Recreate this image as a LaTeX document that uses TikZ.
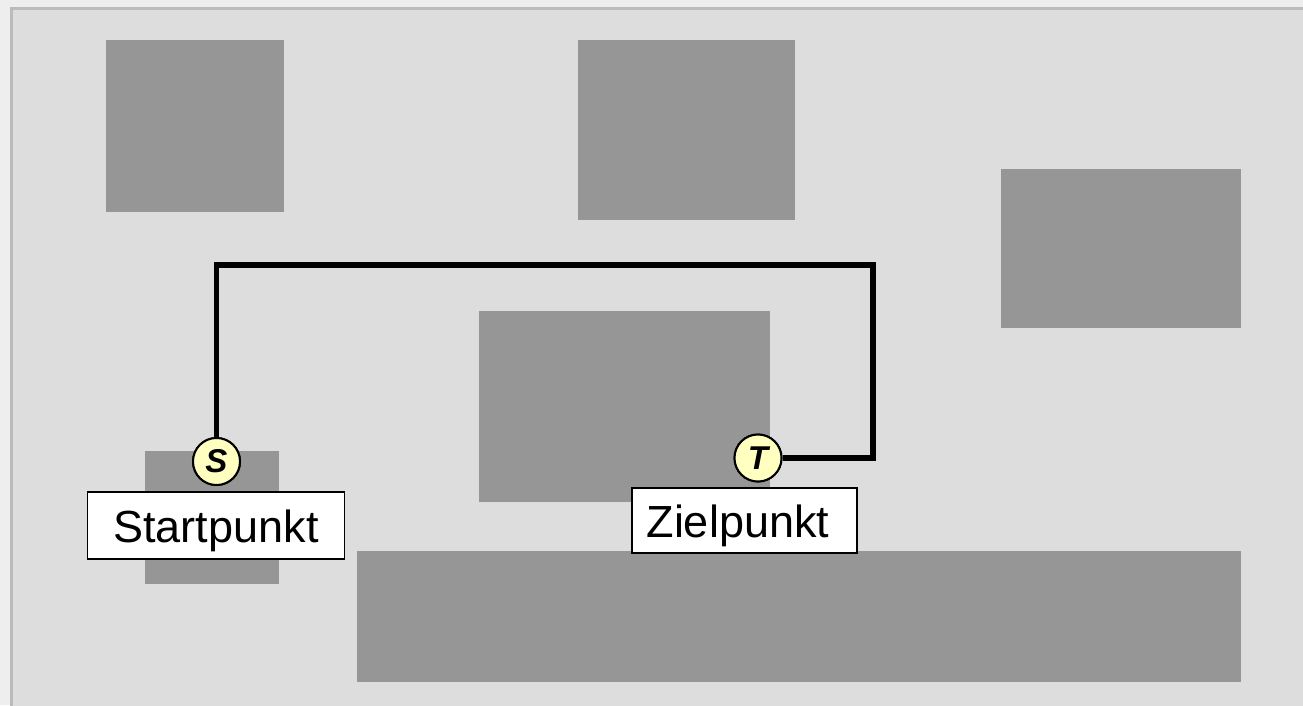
\documentclass[tikz,border=0pt]{standalone}
\usepackage{fontspec}
\setmainfont{Liberation Sans}
\definecolor{outerbg}{HTML}{EEEEEE}
\definecolor{innerbg}{HTML}{DDDDDD}
\definecolor{framec}{HTML}{BBBBBB}
\definecolor{obst}{HTML}{969696}
\definecolor{pointfill}{HTML}{FFFFC0}
\tikzset{
  obstacle/.style={fill=obst, draw=none},
  pointnode/.style={circle, draw=black, line width=2pt, fill=pointfill, minimum size=47pt, inner sep=0pt, font=\fontsize{33}{33}\selectfont\bfseries\itshape},
  labelbox/.style={rectangle, draw=black, line width=1.5pt, fill=white, inner sep=0pt, text height=33pt, text depth=0pt, font=\fontsize{45}{54}\selectfont},
  route/.style={draw=black, line width=5.5pt, line join=miter}
}
\begin{document}
\begin{tikzpicture}[x=1pt,y=-1pt]
\useasboundingbox (0,0) rectangle (1303,705);
\fill[outerbg] (0,0) rectangle (1303,705);
\fill[innerbg] (10,7) rectangle (1310,712);
\draw[framec, line width=3pt] (11.5,720) -- (11.5,8.5) -- (1310,8.5);
% obstacles
\fill[obstacle] (106,40) rectangle (284,212);
\fill[obstacle] (578,40) rectangle (795,220);
\fill[obstacle] (1001,169) rectangle (1241,328);
\fill[obstacle] (479,311) rectangle (770,502);
\fill[obstacle] (145,451) rectangle (279,584);
\fill[obstacle] (357,551) rectangle (1241,682);
% points
\coordinate (c1) at (873,265);
\node[pointnode] (S) at (216.5,461.5) {S};
\node[pointnode] (T) at (758,458) {T};
\draw[route] (S.north) |- (c1) |- (T.east);
\node[pointnode] at (S) {S};
\node[pointnode] at (T) {T};
% labels
\node[labelbox, minimum width=257pt, minimum height=67pt] (SL) at (216,525.5) {Startpunkt};
\node[labelbox, minimum width=225pt, minimum height=65pt, text width=196pt, align=left] (TL) at (744.5,520.5) {Zielpunkt};
\end{tikzpicture}
\end{document}
